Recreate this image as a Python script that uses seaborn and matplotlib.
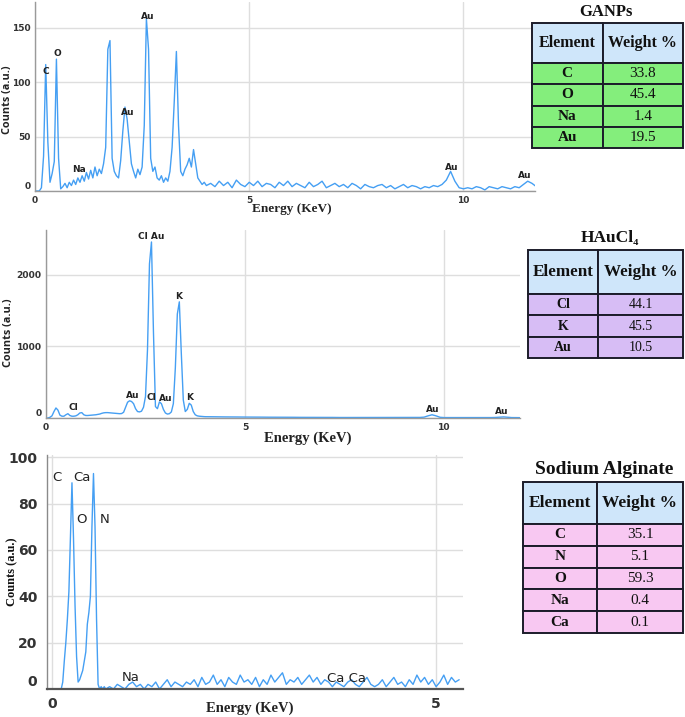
import numpy as np
import pandas as pd
import matplotlib
matplotlib.use("Agg")
import matplotlib.pyplot as plt
import seaborn as sns
from matplotlib.ticker import MultipleLocator, FixedLocator

sns.set_style("white")
plt.rcParams['font.family'] = ['DejaVu Sans']

W, H = 685, 717
SERIF = ['Liberation Serif', 'DejaVu Serif']
LINE = '#459ff3'

# ---------------- data ----------------
# GANPs spectrum
ganps_energy_a = np.round(np.arange(0, 4.001, 0.05), 2)
ganps_counts_a = [0, 0, 0, 3, 32, 116, 45, 8, 16, 27, 121, 30, 2, 4, 7, 3, 8, 5, 10, 6,
                  12, 8, 14, 9, 17, 11, 19, 12, 22, 14, 20, 16, 25, 40, 130, 138, 30, 18, 14, 12,
                  28, 55, 77, 66, 45, 25, 18, 12, 20, 15, 22, 60, 158, 130, 30, 18, 22, 12, 10, 14,
                  8, 12, 9, 18, 40, 82, 128, 60, 18, 14, 20, 24, 30, 22, 38, 25, 12, 9, 6, 8,
                  5]
ganps_energy_b = np.round(np.arange(4.1, 11.701, 0.1), 2)
ganps_counts_b = [7, 4, 9, 5, 8, 3, 10, 6, 4, 8,
                  5, 9, 4, 7, 6, 3, 8, 5, 9, 4,
                  7, 5, 3, 8, 4, 6, 9, 3, 5, 7,
                  4, 6, 3, 7, 5, 2, 6, 4, 3, 5,
                  6, 3, 5, 2, 4, 6, 3, 5, 4, 2,
                  4, 3, 5, 4, 6, 10, 18, 9, 3, 2,
                  3, 2, 4, 3, 1, 4, 3, 2, 4, 3,
                  2, 4, 3, 6, 9, 7, 4]
ganps_labels = ["C", "O", "Na", "Au", "Au", "Au", "Au"]
ganps_label_e = [0.25, 0.53, 1.03, 2.16, 2.63, 9.72, 11.44]
ganps_label_c = [110, 126, 20, 72, 160, 22, 14]

# HAuCl4 spectrum
haucl_energy_a = np.round(np.arange(0, 4.001, 0.05), 2)
haucl_counts_a = [0, 0, 10, 30, 90, 140, 110, 40, 25, 25, 45, 60, 35, 25, 25, 30, 45, 70, 75, 45,
                  35, 35, 38, 40, 42, 45, 50, 55, 65, 72, 75, 75, 72, 70, 68, 65, 62, 60, 62, 80,
                  150, 220, 240, 230, 200, 130, 90, 85, 95, 150, 300, 950, 2150, 2455, 1200, 160, 130, 225, 200, 120,
                  70, 55, 60, 85, 200, 700, 1450, 1620, 900, 250, 90, 120, 205, 180, 90, 45, 30, 25, 22, 20,
                  18]
haucl_energy_b = np.round(np.arange(4.1, 11.901, 0.1), 2)
haucl_counts_b = [18, 17, 16, 16, 15, 15, 14, 14, 13, 13,
                  13, 12, 12, 12, 11, 11, 11, 10, 10, 10,
                  10, 10, 9, 9, 9, 9, 8, 8, 8, 8,
                  8, 8, 7, 7, 7, 7, 7, 7, 6, 6,
                  6, 6, 6, 6, 6, 6, 6, 6, 6, 6,
                  6, 6, 7, 8, 12, 30, 45, 30, 10, 6,
                  6, 5, 5, 5, 5, 5, 5, 5, 5, 5,
                  5, 6, 8, 12, 15, 10, 6, 5, 5]
haucl_labels = ["Cl Au", "K", "Au", "Cl", "Au", "K", "Cl", "Au", "Au"]
haucl_label_e = [2.65, 3.34, 2.17, 2.66, 3.01, 3.60, 0.69, 9.72, 11.45]
haucl_label_c = [2534, 1688, 317, 279, 275, 279, 145, 117, 93]

# Sodium alginate spectrum
alg_energy_a = np.round(np.arange(0, 0.701, 0.02), 2)
alg_counts_a = [0, 0, 0, 0, 0, 0, 0, 3, 12, 20, 30, 42, 65, 89, 65, 36, 14, 3,
                4, 6, 8, 12, 16, 28, 33, 40, 70, 93, 70, 30, 2, 0, 1, 0, 1, 0]
alg_energy_b = np.round(np.arange(0.75, 5.301, 0.05), 2)
alg_counts_b = [1, 0, 2, 1, 0, 2, 3, 1, 2, 0,
                2, 1, 3, 0, 2, 4, 1, 3, 2, 1,
                3, 2, 4, 1, 5, 2, 3, 6, 2, 4,
                1, 5, 3, 2, 6, 3, 4, 2, 5, 1,
                4, 2, 6, 3, 5, 7, 2, 4, 3, 5,
                2, 4, 6, 3, 5, 2, 4, 3, 1, 3,
                2, 1, 3, 4, 2, 1, 3, 5, 2, 1,
                2, 4, 1, 3, 5, 2, 3, 1, 4, 2,
                6, 3, 5, 2, 4, 1, 3, 6, 2, 5,
                3, 4]
alg_labels = ["C", "Ca", "O", "N", "Na", "Ca Ca"]
alg_label_e = [0.06, 0.39, 0.38, 0.68, 1.03, 3.84]
alg_label_c = [91.5, 91.5, 73, 73, 5, 4.5]

# Tables
ganps_elements = ["C", "O", "Na", "Au"]
ganps_weights = ["33.8", "45.4", "1.4", "19.5"]
haucl_elements = ["Cl", "K", "Au"]
haucl_weights = ["44.1", "45.5", "10.5"]
alg_elements = ["C", "N", "O", "Na", "Ca"]
alg_weights = ["35.1", "5.1", "59.3", "0.4", "0.1"]


def rect(l, t, r, b):
    return [l / W, 1 - b / H, (r - l) / W, (b - t) / H]


fig = plt.figure(figsize=(W / 100, H / 100), dpi=100)


def spectrum_axes(box, xlim, ylim, e_a, c_a, e_b, c_b, yticks, xticks, tick_fs,
                  spine_color='#9a9a9a'):
    ax = fig.add_axes(rect(*box))
    df = pd.DataFrame({"Energy": np.concatenate([e_a, e_b]),
                       "Counts": np.concatenate([c_a, c_b])})
    sns.lineplot(data=df, x="Energy", y="Counts", ax=ax, color=LINE,
                 linewidth=1.0, estimator=None, sort=False)
    ax.set_xlim(*xlim)
    ax.set_ylim(*ylim)
    ax.xaxis.set_major_locator(FixedLocator(xticks))
    ax.yaxis.set_major_locator(FixedLocator(yticks))
    ax.xaxis.set_minor_locator(MultipleLocator(1))
    ax.grid(True, which='major', color='#dedede', linewidth=1.0)
    ax.set_axisbelow(True)
    for s in ['top', 'right']:
        ax.spines[s].set_visible(False)
    for s in ['left', 'bottom']:
        ax.spines[s].set_color(spine_color)
        ax.spines[s].set_linewidth(1.0)
    ax.set_xlabel("")
    ax.set_ylabel("")
    ax.tick_params(axis='both', which='major', labelsize=tick_fs, colors=spine_color,
                   labelcolor='#333333', length=2, pad=1.5)
    ax.tick_params(axis='both', which='minor', length=1.5, colors=spine_color)
    ax.tick_params(axis='y', which='major', length=0, pad=3)
    ax.set_xticklabels([str(t) for t in xticks])
    ax.set_yticklabels([str(t) for t in yticks])
    return ax


def finish_ticks(ax):
    for lb in ax.get_xticklabels() + ax.get_yticklabels():
        lb.set_fontweight('bold')
    # the "0" count label sits just above the axis line, as in the reference
    ax.get_yticklabels()[0].set_verticalalignment('bottom')


# Panel 1 : GANPs
ax1 = spectrum_axes((35, 2, 535, 191), (0, 11.67), (0, 173.4),
                    ganps_energy_a, ganps_counts_a, ganps_energy_b, ganps_counts_b,
                    [0, 50, 100, 150], [0, 5, 10], 6.5)
finish_ticks(ax1)
for s, e, c in zip(ganps_labels, ganps_label_e, ganps_label_c):
    ax1.text(e, c, s, ha='center', va='center', fontsize=6.5, fontweight='bold', color='#222222')

# Panel 2 : HAuCl4
ax2 = spectrum_axes((46, 230, 520, 418), (0, 11.91), (0, 2622),
                    haucl_energy_a, haucl_counts_a, haucl_energy_b, haucl_counts_b,
                    [0, 1000, 2000], [0, 5, 10], 6.6)
finish_ticks(ax2)
for s, e, c in zip(haucl_labels, haucl_label_e, haucl_label_c):
    ax2.text(e, c, s, ha='center', va='center', fontsize=6.5, fontweight='bold', color='#222222')

# Panel 3 : Sodium alginate
ax3 = spectrum_axes((47, 455, 463, 689), (-0.065, 5.35), (0, 101),
                    alg_energy_a, alg_counts_a, alg_energy_b, alg_counts_b,
                    [0, 20, 40, 60, 80, 100], [0, 5], 10, spine_color='#8a8a8a')
ax3.spines['bottom'].set_color('#555555')
ax3.spines['bottom'].set_linewidth(1.6)
ax3.yaxis.set_minor_locator(MultipleLocator(5))
ax3.tick_params(axis='y', which='minor', length=2.5, colors='#777777')
ax3.tick_params(axis='y', which='major', length=4, colors='#777777', labelcolor='#333333', pad=3)
ax3.tick_params(axis='x', which='major', length=3, colors='#555555', labelcolor='#333333', pad=3)
finish_ticks(ax3)
for s, e, c in zip(alg_labels, alg_label_e, alg_label_c):
    ax3.text(e, c, s, ha='center', va='center', fontsize=9.5, color='#222222')

# axis titles
fig.text(8 / W, 1 - 100 / H, "Counts (a.u.)", rotation=90, ha='center', va='center',
         fontsize=7.8, fontweight='bold', family=['Open Sans', 'DejaVu Sans'], color='#222222')
fig.text(9 / W, 1 - 333 / H, "Counts (a.u.)", rotation=90, ha='center', va='center',
         fontsize=7.8, fontweight='bold', family=['Open Sans', 'DejaVu Sans'], color='#222222')
fig.text(12 / W, 1 - 572 / H, "Counts (a.u.)", rotation=90, ha='center', va='center',
         fontsize=9, fontweight='bold', family=SERIF, color='#111111')
fig.text(292 / W, 1 - 209 / H, "Energy (KeV)", ha='center', va='center',
         fontsize=9.5, fontweight='bold', family=SERIF, color='#222222')
fig.text(308 / W, 1 - 438 / H, "Energy (KeV)", ha='center', va='center',
         fontsize=10.5, fontweight='bold', family=SERIF, color='#222222')
fig.text(250 / W, 1 - 708 / H, "Energy (KeV)", ha='center', va='center',
         fontsize=10.5, fontweight='bold', family=SERIF, color='#222222')


def draw_table(box, split, header_bottom, title, title_xy, title_fs, elements, weights,
               body_color, head_fs, body_fs):
    l, t, r, b = box
    tax = fig.add_axes(rect(l, t, r, b))
    tax.axis('off')
    cell_text = [[e, w] for e, w in zip(elements, weights)]
    tbl = tax.table(cellText=cell_text, colLabels=["Element", "Weight %"],
                    cellLoc='center', bbox=[0, 0, 1, 1])
    tbl.auto_set_font_size(False)
    n = len(elements)
    header_h = header_bottom - t
    body_h = (b - header_bottom) / n
    col_w = [split - l, r - split]
    for (row, col), cell in tbl.get_celld().items():
        cell.set_width(col_w[col])
        cell.set_height(header_h if row == 0 else body_h)
        cell.set_edgecolor('#1c1c2a')
        cell.set_linewidth(1.4)
        cell.PAD = 0.02
        txt = cell.get_text()
        txt.set_fontfamily(SERIF)
        txt.set_color('#111111')
        if row == 0:
            cell.set_facecolor('#cfe6fa')
            txt.set_fontsize(head_fs)
            txt.set_fontweight('bold')
        else:
            cell.set_facecolor(body_color)
            txt.set_fontsize(body_fs)
            if col == 0:
                txt.set_fontweight('bold')
    fig.text(title_xy[0] / W, 1 - title_xy[1] / H, title, ha='center', va='center',
             fontsize=title_fs, fontweight='bold', family=SERIF, color='#111111')


draw_table((532, 23, 683, 148), 602.5, 63, "GANPs", (606, 12), 12,
           ganps_elements, ganps_weights, '#84ee7c', 11.5, 11)
draw_table((528, 250, 683, 358), 598, 294, "HAuCl\u2084", (610, 238), 12.5,
           haucl_elements, haucl_weights, '#d7bdf5', 12.3, 10)
draw_table((523, 482, 683, 633), 597, 524, "Sodium Alginate", (604, 470), 14,
           alg_elements, alg_weights, '#f8c8f2', 12.5, 11)

fig.savefig("out.png", dpi=100)
